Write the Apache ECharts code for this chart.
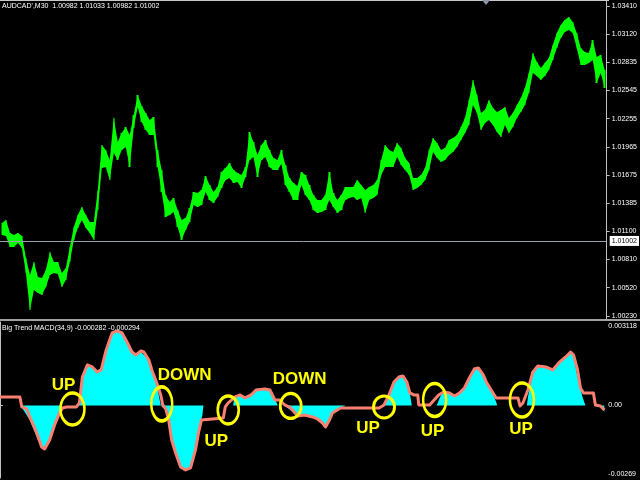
<!DOCTYPE html>
<html>
<head>
<meta charset="utf-8">
<script src="https://cdn.jsdelivr.net/npm/echarts@6/dist/echarts.min.js"></script>
<style>
html,body{margin:0;padding:0;background:#000;}
#chart{width:640px;height:480px;}
</style>
</head>
<body>
<div id="chart"></div>
<script>
// ---- Price panel data (AUDCAD M30) ----
const priceTicks = [1.00230, 1.00520, 1.00810, 1.01100, 1.01385, 1.01675, 1.01965, 1.02255, 1.02545, 1.02835, 1.03120, 1.03410];
const barHigh = [1.01184,1.01215,1.01081,1.01061,1.01081,1.01051,1.00825,1.00651,1.00784,1.00630,
1.00620,1.00702,1.00887,1.00784,1.00784,1.00671,1.00722,1.00938,1.01143,1.01266,
1.01348,1.01266,1.01194,1.01194,1.01523,1.01984,1.01933,1.01830,1.02261,1.02015,
1.02107,1.02169,1.02087,1.02292,1.02497,1.02384,1.02313,1.02241,1.02272,1.01933,
1.01728,1.01471,1.01400,1.01441,1.01317,1.01215,1.01235,1.01338,1.01502,1.01492,
1.01523,1.01666,1.01574,1.01502,1.01553,1.01707,1.01748,1.01800,1.01728,1.01697,
1.01677,1.01759,1.02118,1.02015,1.01882,1.01984,1.02036,1.01933,1.01851,1.01830,
1.01933,1.01779,1.01646,1.01594,1.01564,1.01707,1.01677,1.01574,1.01471,1.01420,
1.01420,1.01471,1.01707,1.01492,1.01420,1.01471,1.01553,1.01553,1.01553,1.01625,
1.01574,1.01523,1.01553,1.01574,1.01625,1.01830,1.01984,1.01933,1.01913,1.02005,
1.01954,1.01851,1.01800,1.01646,1.01646,1.01677,1.01748,1.01933,1.02056,1.02005,
1.01933,1.01954,1.02036,1.02056,1.02087,1.02169,1.02261,1.02446,1.02651,1.02497,
1.02313,1.02343,1.02446,1.02364,1.02323,1.02343,1.02374,1.02261,1.02313,1.02395,
1.02467,1.02569,1.02723,1.02928,1.02836,1.02774,1.02826,1.02877,1.03010,1.03133,
1.03216,1.03267,1.03298,1.03246,1.03133,1.02980,1.02939,1.02928,1.03062,1.02887,
1.02908,1.02754];
const barLow = [1.01061,1.01051,1.00938,1.00938,1.00979,1.00928,1.00671,1.00291,1.00497,1.00466,
1.00445,1.00527,1.00651,1.00671,1.00661,1.00527,1.00599,1.00784,1.01010,1.01133,
1.01215,1.01133,1.01081,1.01010,1.01317,1.01748,1.01759,1.01625,1.01902,1.01830,
1.01933,1.01964,1.01759,1.02159,1.02374,1.02220,1.02138,1.02087,1.02087,1.01759,
1.01502,1.01246,1.01266,1.01297,1.01143,1.01010,1.01112,1.01194,1.01369,1.01348,
1.01369,1.01502,1.01420,1.01389,1.01451,1.01543,1.01625,1.01646,1.01594,1.01605,
1.01543,1.01656,1.01830,1.01861,1.01656,1.01830,1.01861,1.01759,1.01728,1.01728,
1.01789,1.01574,1.01502,1.01420,1.01420,1.01574,1.01471,1.01420,1.01317,1.01287,
1.01297,1.01317,1.01420,1.01348,1.01287,1.01317,1.01420,1.01441,1.01451,1.01420,
1.01441,1.01287,1.01420,1.01441,1.01471,1.01677,1.01759,1.01759,1.01759,1.01861,
1.01779,1.01728,1.01677,1.01523,1.01543,1.01574,1.01625,1.01728,1.01913,1.01851,
1.01810,1.01830,1.01882,1.01913,1.01964,1.02036,1.02107,1.02190,1.02395,1.02313,
1.02138,1.02210,1.02241,1.02190,1.02118,1.02066,1.02190,1.02107,1.02169,1.02261,
1.02323,1.02395,1.02518,1.02723,1.02692,1.02651,1.02692,1.02754,1.02856,1.02980,
1.03082,1.03144,1.03164,1.03133,1.02980,1.02805,1.02805,1.02826,1.02856,1.02620,
1.02723,1.02569];
const lastPrice = 1.01002;
const headerText = "AUDCAD',M30  1.00982 1.01033 1.00982 1.01002";

// ---- MACD panel data ----
const macdTicks = [0.003118, 0, -0.00269];
const macdTickLabels = ['0.003118', '0.00', '-0.00269'];
const macdTitle = 'Big Trend MACD(34,9) -0.000282 -0.000294';
const histX = [0,22,23,30,37,43,50,55,60,62,78,80,82,87,93,98,103,107,113,118,
125,132,137,142,148,153,157,160,162,163,167,172,177,182,188,193,198,202,204,205,
235,236,242,247,253,258,267,273,280,288,290,295,300,307,315,320,325,328,332,335,
343,348,385,388,392,397,402,406,410,413,415,440,441,444,447,453,458,463,468,473,
478,482,487,490,495,500,501,531,532,537,542,550,557,563,570,575,578,581,584,587,
590,606,607,609];
const histV = [0,0,-0.000137,-0.000569,-0.001236,-0.001668,-0.001432,-0.000844,-0.000177,0,
0,0.000098,0.001118,0.001589,0.001511,0.001275,0.001511,0.002178,0.002845,0.002963,
0.002766,0.002178,0.001982,0.002099,0.001864,0.001393,0.001001,0.000412,0,0,
-0.000177,-0.001079,-0.001864,-0.002453,-0.00257,-0.002335,-0.001472,-0.000687,-0.000373,0,
0,0.000334,0.000412,0.000294,0.000451,0.000647,0.000687,0.000608,0,0,
-0.000098,-0.000255,-0.000373,-0.000334,-0.000412,-0.000491,-0.000648,-0.000765,-0.00053,-0.000255,
-0.000098,0,0,0.000059,0.000491,0.000922,0.001118,0.001197,0.000922,0.000491,
0,0,0.000059,0.000373,0.00053,0.000491,0.000373,0.000491,0.000687,0.001079,
0.001432,0.001511,0.001236,0.000961,0.000608,0.000137,0,0,0.000334,0.001275,
0.001511,0.001472,0.001354,0.001629,0.001903,0.002099,0.001942,0.001315,0.000804,0.000334,
0,0,-0.000098,-0.000255];
const sigX = [0,20,22,27,30,37,42,45,50,55,60,63,67,77,80,83,88,93,98,102,
107,113,118,123,128,133,137,142,145,150,153,158,162,163,164,167,170,173,177,182,
187,192,197,200,203,205,225,227,230,237,242,247,253,258,267,272,277,282,287,293,
300,307,315,320,325,328,332,335,343,382,387,392,397,402,406,410,413,417,421,422,
433,442,447,453,458,463,468,473,478,482,487,490,495,500,522,524,527,532,537,542,
550,557,563,570,575,578,582,585,588,598,600,605,607,609];
const sigV = [0.000334,0.000334,-0.000059,-0.000137,-0.000451,-0.001079,-0.001628,-0.001707,-0.001354,-0.000765,
-0.000294,-0.000098,-0.000059,-0.000059,0.000098,0.001118,0.001589,0.001511,0.001315,0.001393,
0.002178,0.002845,0.002923,0.002845,0.002492,0.002099,0.001982,0.002139,0.002099,0.001785,
0.001393,0.000883,0.000412,0.000373,0.00002,-0.000137,-0.000569,-0.001354,-0.001864,-0.002413,
-0.002531,-0.002453,-0.001746,-0.001079,-0.000569,-0.000491,-0.000491,-0.000059,0.000098,0.000334,
0.000412,0.000294,0.000412,0.000608,0.000647,0.000608,0.000216,0.000216,0.00002,-0.000098,
-0.000412,-0.000373,-0.000451,-0.00053,-0.000687,-0.000844,-0.000569,-0.000294,-0.000098,-0.000098,
0.00002,0.000412,0.000922,0.001118,0.001158,0.000922,0.000491,0.000412,0.000412,0.00002,
0.00002,0.000412,0.00053,0.000491,0.000373,0.000491,0.000687,0.001079,0.001432,0.001472,
0.001197,0.000922,0.000608,0.000294,0.000294,-0.00002,0.000098,0.000608,0.001315,0.00155,
0.001511,0.001393,0.001668,0.001903,0.002099,0.001982,0.001393,0.000687,0.000491,0.000491,
0.00002,-0.00002,-0.000098,-0.000177];

// ---- Signal annotations ----
const ringX = [73,163,230,293,387,438,526];
const ringV = [-0.000137,0.000059,-0.000177,-0.00002,-0.000059,0.000216,0.000216];
const noteText = ['UP','DOWN','UP','DOWN','UP','UP','UP'];
const noteX = [64,186,218,302,371,436,525];
const noteV = [0.000804,0.001197,-0.001393,0.00104,-0.000883,-0.001001,-0.000922];

// ---- styling ----
const ringSize = [[24,32],[21,34],[21,28],[21,25],[21,22],[23,33],[24,34]];
const smallFont = "'Liberation Sans',Arial,sans-serif";
const barGreen = '#00ff00';

const chart = echarts.init(document.getElementById('chart'), null, {renderer: 'canvas'});
const cats = barHigh.map((_, i) => i);
const candles = barHigh.map((h, i) => [barLow[i], h, barLow[i], h]);
const bandSpan = barHigh.map((h, i) => +(h - barLow[i]).toFixed(5));

function macdLabel(v) {
  for (let i = 0; i < macdTicks.length; i++) {
    if (Math.abs(v - macdTicks[i]) < 1e-7) return macdTickLabels[i];
  }
  return '';
}

chart.setOption({
  backgroundColor: '#000000',
  animation: false,
  title: [
    {text: headerText, left: 2, top: 3, padding: 0,
     textStyle: {color: '#ffffff', fontSize: 7, fontWeight: 'normal', fontFamily: smallFont}},
    {text: macdTitle, left: 2, top: 325, padding: 0,
     textStyle: {color: '#ffffff', fontSize: 7, fontWeight: 'normal', fontFamily: smallFont}}
  ],
  grid: [
    {left: 0, right: 31, top: 1, bottom: 161},
    {left: 0, right: 31, top: 322, bottom: 2}
  ],
  xAxis: [
    {type: 'category', gridIndex: 0, data: cats, show: false, boundaryGap: true},
    {type: 'value', gridIndex: 1, min: 0, max: 609, show: false}
  ],
  yAxis: [
    {type: 'value', gridIndex: 0, position: 'right', min: 1.00199, max: 1.03462,
     splitLine: {show: false},
     axisLine: {show: true, lineStyle: {color: '#c0c0c0', width: 1}},
     axisTick: {show: true, inside: false, length: 3, customValues: priceTicks, lineStyle: {color: '#c0c0c0'}},
     axisLabel: {show: true, customValues: priceTicks, formatter: v => v.toFixed(5),
                 color: '#ffffff', fontSize: 7, fontFamily: smallFont, margin: 5}},
    {type: 'value', gridIndex: 1, position: 'right', min: -0.002847, max: 0.003275,
     splitLine: {show: false},
     axisLine: {show: true, lineStyle: {color: '#c0c0c0', width: 1}},
     axisTick: {show: true, inside: false, length: 3, customValues: [0], lineStyle: {color: '#c0c0c0'}},
     axisLabel: {show: true, customValues: macdTicks, formatter: v => macdLabel(v),
                 color: '#ffffff', fontSize: 7, fontFamily: smallFont, margin: 4}}
  ],
  series: [
    {
      type: 'line', xAxisIndex: 0, yAxisIndex: 0, data: barLow, stack: 'range',
      showSymbol: false, symbol: 'none',
      lineStyle: {width: 0, opacity: 0},
      z: 1
    },
    {
      type: 'line', xAxisIndex: 0, yAxisIndex: 0, data: bandSpan, stack: 'range',
      showSymbol: false, symbol: 'none',
      lineStyle: {width: 0, opacity: 0},
      areaStyle: {color: barGreen, opacity: 1},
      z: 1
    },
    {
      type: 'candlestick', xAxisIndex: 0, yAxisIndex: 0, data: candles,
      barWidth: 2,
      itemStyle: {color: barGreen, color0: barGreen, borderColor: barGreen, borderColor0: barGreen, borderWidth: 0},
      z: 2,
      markLine: {
        silent: true, symbol: 'none', animation: false,
        data: [{yAxis: lastPrice}],
        lineStyle: {color: '#9aa0a8', type: 'solid', width: 1},
        label: {show: true, position: 'end', distance: 3, formatter: lastPrice.toFixed(5),
                backgroundColor: '#ffffff', color: '#000000', fontSize: 7, fontFamily: smallFont,
                padding: [2, 2, 1, 2]}
      }
    },
    {
      type: 'line', xAxisIndex: 1, yAxisIndex: 1,
      data: histX.map((x, i) => [x, histV[i]]),
      showSymbol: false, symbol: 'none',
      lineStyle: {width: 0, opacity: 0},
      areaStyle: {color: '#00ffff', opacity: 1},
      z: 2
    },
    {
      type: 'line', xAxisIndex: 1, yAxisIndex: 1,
      data: sigX.map((x, i) => [x, sigV[i]]),
      showSymbol: false, symbol: 'none',
      lineStyle: {color: '#fa8072', width: 3, join: 'round'},
      z: 3
    },
    {
      type: 'scatter', xAxisIndex: 1, yAxisIndex: 1,
      data: ringX.map((x, i) => ({value: [x, ringV[i]], symbolSize: ringSize[i]})),
      symbol: 'path://M0,50 A50,50 0 1,1 100,50 A50,50 0 1,1 0,50 Z',
      itemStyle: {color: 'rgba(0,0,0,0)', borderColor: '#ffff00', borderWidth: 3, opacity: 1},
      silent: true, z: 5
    },
    {
      type: 'scatter', xAxisIndex: 1, yAxisIndex: 1,
      data: noteX.map((x, i) => ({value: [x, noteV[i]], name: noteText[i]})),
      symbolSize: 1,
      itemStyle: {color: 'rgba(0,0,0,0)', opacity: 1},
      label: {show: true, position: 'inside', formatter: p => p.name,
              color: '#ffff00', fontSize: 17, fontWeight: 'bold', fontFamily: smallFont,
              textBorderWidth: 0, opacity: 1},
      silent: true, z: 6
    }
  ],
  graphic: [
    {type: 'rect', shape: {x: 0, y: 0, width: 609, height: 1}, style: {fill: '#c8c8c8'}, silent: true},
    {type: 'rect', shape: {x: 0, y: 319, width: 640, height: 2}, style: {fill: '#a0a0a0'}, silent: true},
    {type: 'polygon', shape: {points: [[482, 0], [490, 0], [486, 5]]}, style: {fill: '#8a96a8'}, silent: true}
  ]
});
</script>
</body>
</html>
